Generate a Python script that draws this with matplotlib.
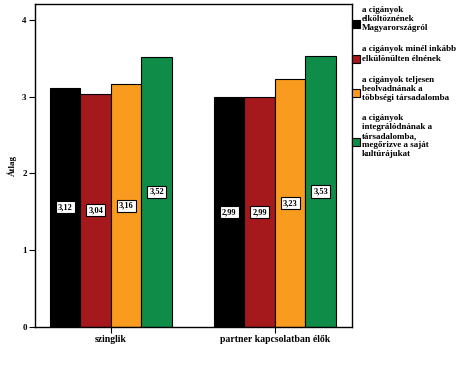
import numpy as np
import matplotlib.pyplot as plt
from matplotlib.patches import Rectangle

plt.rcParams["font.family"] = ["Liberation Serif", "DejaVu Serif"]

groups = ["szinglik", "partner kapcsolatban élők"]
series = [
    "a cigányok\nelköltöznének\nMagyarországról",
    "a cigányok minél inkább\nelkülönülten élnének",
    "a cigányok teljesen\nbeolvadnának a\ntöbbségi társadalomba",
    "a cigányok\nintegrálódnának a\ntársadalomba,\nmegőrizve a saját\nkultúrájukat",
]
values = [
    [3.12, 2.99],
    [3.04, 2.99],
    [3.16, 3.23],
    [3.52, 3.53],
]
colors = ["#000000", "#a5191c", "#f99b1f", "#0f8c47"]

fig = plt.figure(figsize=(4.68, 3.75), dpi=100)
ax = fig.add_axes([35 / 468, 48 / 375, 317 / 468, 323 / 375])

x = np.arange(len(groups))
w = 0.186
for i, (vals, c) in enumerate(zip(values, colors)):
    pos = x + (i - 1.5) * w
    ax.bar(pos, vals, width=w, color=c, edgecolor="black", linewidth=0.8)
    for px, v in zip(pos, vals):
        ax.text(px, v / 2, f"{v:.2f}".replace(".", ","), ha="center", va="center",
                fontsize=6, fontweight="bold",
                bbox=dict(boxstyle="square,pad=0.25", fc="white", ec="black", lw=0.8))

ax.set_xlim(-0.463, 1.47)
ax.set_ylim(0, 4.208)
ax.set_xticks(x)
ax.set_xticklabels(groups, fontsize=7, fontweight="bold")
ax.set_yticks([0, 1, 2, 3, 4])
ax.set_yticklabels(["0", "1", "2", "3", "4"], fontsize=6.5, fontweight="bold")
ax.tick_params(length=4, width=0.8, direction="out", pad=2)
ax.set_ylabel("Átlag", fontsize=6.5, fontweight="bold", labelpad=4)
for s in ax.spines.values():
    s.set_linewidth(1.0)

# legend at right, drawn by hand
text_centers = [19, 54, 89, 136]
square_centers = [23.5, 59, 93, 142]
for lbl, c, ty, sy in zip(series, colors, text_centers, square_centers):
    fig.add_artist(Rectangle((352 / 468, (375 - sy - 4) / 375), 8 / 468, 8 / 375,
                             transform=fig.transFigure, fc=c, ec="black", lw=0.8))
    fig.text(362 / 468, (375 - ty) / 375, lbl, ha="left", va="center",
             fontsize=6.5, fontweight="bold", linespacing=1.2)

fig.savefig("out.png", dpi=100)
